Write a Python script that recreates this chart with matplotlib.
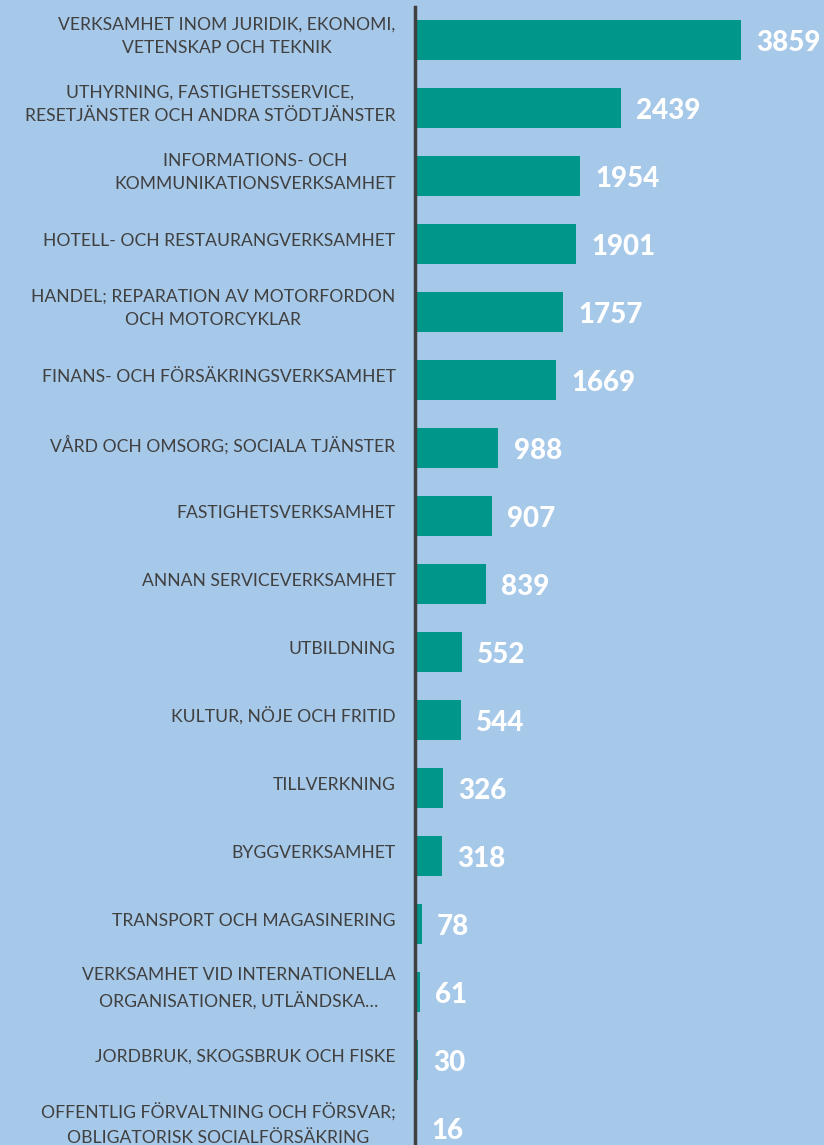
import matplotlib
matplotlib.use('Agg')
import matplotlib.pyplot as plt

# branscher och antal
branscher = [
    'VERKSAMHET INOM JURIDIK, EKONOMI,\nVETENSKAP OCH TEKNIK',
    'UTHYRNING, FASTIGHETSSERVICE,\nRESETJÄNSTER OCH ANDRA STÖDTJÄNSTER',
    'INFORMATIONS- OCH\nKOMMUNIKATIONSVERKSAMHET',
    'HOTELL- OCH RESTAURANGVERKSAMHET',
    'HANDEL; REPARATION AV MOTORFORDON\nOCH MOTORCYKLAR',
    'FINANS- OCH FÖRSÄKRINGSVERKSAMHET',
    'VÅRD OCH OMSORG; SOCIALA TJÄNSTER',
    'FASTIGHETSVERKSAMHET',
    'ANNAN SERVICEVERKSAMHET',
    'UTBILDNING',
    'KULTUR, NÖJE OCH FRITID',
    'TILLVERKNING',
    'BYGGVERKSAMHET',
    'TRANSPORT OCH MAGASINERING',
    'VERKSAMHET VID INTERNATIONELLA\nORGANISATIONER, UTLÄNDSKA…',
    'JORDBRUK, SKOGSBRUK OCH FISKE',
    'OFFENTLIG FÖRVALTNING OCH FÖRSVAR;\nOBLIGATORISK SOCIALFÖRSÄKRING',
]
antal = [3859, 2439, 1954, 1901, 1757, 1669, 988, 907, 839, 552, 544, 326, 318, 78, 61, 30, 16]

bg = '#A6C8E9'
fig = plt.figure(figsize=(8.24, 11.45), dpi=100, facecolor=bg)
ax = fig.add_axes([415/824, 0, 1 - 415/824, 1])
ax.set_facecolor(bg)

pos = list(range(len(antal)))
ax.barh(pos, antal, height=0.6, color='#00968A')

ax.set_ylim(16.25, -0.588)
ax.set_xlim(0, 4840)

for s in ['top', 'right', 'bottom']:
    ax.spines[s].set_visible(False)
ax.spines['left'].set_color('#404040')
ax.spines['left'].set_linewidth(2.5)
ax.spines['left'].set_bounds(-0.49, 16.25)
ax.set_xticks([])
ax.set_yticks([])

# kategorinamn till vänster om axeln
for i, b in enumerate(branscher):
    ax.annotate(b, (0, i), xytext=(-14, 2.5), textcoords='offset points',
                ha='right', va='center', multialignment='center', linespacing=1.6,
                fontsize=12.6, color='#404040', family=['Lato', 'DejaVu Sans'],
                annotation_clip=False)

for i, v in enumerate(antal):
    ax.annotate(str(v), (v, i), xytext=(11, -2), textcoords='offset points',
                ha='left', va='center', color='white', fontsize=20, fontweight='black',
                family=['Lato', 'DejaVu Sans'])

fig.savefig('out.png', dpi=100, facecolor=bg)
